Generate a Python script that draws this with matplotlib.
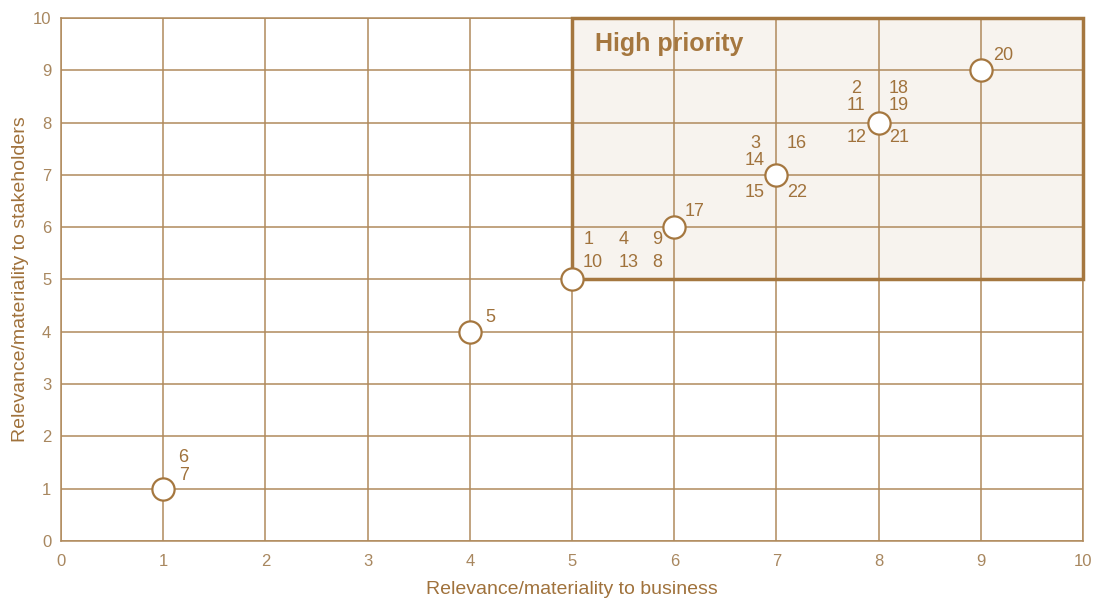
import matplotlib
matplotlib.use('Agg')
import matplotlib.pyplot as plt
from matplotlib.patches import Rectangle

plt.rcParams['font.family'] = ['Liberation Sans', 'DejaVu Sans']

# points on the materiality matrix
x_business = [1, 4, 5, 6, 7, 8, 9]
y_stakeholders = [1, 4, 5, 6, 7, 8, 9]

# issue numbers and where they sit
issue_labels = ['6', '7', '5', '1', '4', '9', '10', '13', '8', '17',
                '3', '16', '14', '15', '22', '2', '18', '11', '19', '12', '21', '20']
label_x = [1.2, 1.2, 4.2, 5.16, 5.5, 5.83, 5.2, 5.55, 5.83, 6.2,
           6.79, 7.2, 6.79, 6.79, 7.2, 7.78, 8.2, 7.78, 8.2, 7.78, 8.2, 9.22]
label_y = [1.6, 1.25, 4.27, 5.76, 5.76, 5.76, 5.32, 5.32, 5.32, 6.29,
           7.6, 7.6, 7.27, 6.67, 6.67, 8.66, 8.66, 8.32, 8.32, 7.72, 7.72, 9.29]

ticks = list(range(0, 11))

brown = '#a5773f'
grid_c = '#b08a5c'
text_c = '#a0723c'

fig = plt.figure(figsize=(10.94, 5.98), dpi=100)
ax = fig.add_axes([0.0558, 0.0953, 0.9342, 0.8747])
ax.set_xlim(0, 10)
ax.set_ylim(0, 10)

# high priority area
ax.add_patch(Rectangle((5, 5), 5, 5, facecolor='#f7f3ee', edgecolor='none', zorder=0))
ax.add_patch(Rectangle((5, 5), 5, 5, facecolor='none', edgecolor=brown, lw=2.5, zorder=3,
                       clip_on=False))
ax.text(5.22, 9.5, 'High priority', color=brown, fontsize=18, fontweight='bold',
        va='center', ha='left', zorder=4)

ax.set_xticks(ticks)
ax.set_yticks(ticks)
ax.grid(True, color=grid_c, lw=1.1, zorder=1)
ax.set_axisbelow(True)
for s in ax.spines.values():
    s.set_color(grid_c)
    s.set_linewidth(1.1)
ax.tick_params(axis='x', length=0, colors='#a8875f', labelsize=12, pad=9)
ax.tick_params(axis='y', length=0, colors='#a8875f', labelsize=12, pad=7)

ax.plot(x_business, y_stakeholders, 'o', ms=16, mfc='white', mec=brown, mew=1.6,
        ls='none', zorder=5)

for t, lx, ly in zip(issue_labels, label_x, label_y):
    ax.text(lx, ly, t, color=text_c, fontsize=13, ha='center', va='center', zorder=6)

ax.set_xlabel('Relevance/materiality to business', color=text_c, fontsize=14)
ax.set_ylabel('Relevance/materiality to stakeholders', color=text_c, fontsize=14)
ax.xaxis.set_label_coords(0.5, -0.076)
ax.yaxis.set_label_coords(-0.031, 0.5)

fig.savefig('out.png', dpi=100)
